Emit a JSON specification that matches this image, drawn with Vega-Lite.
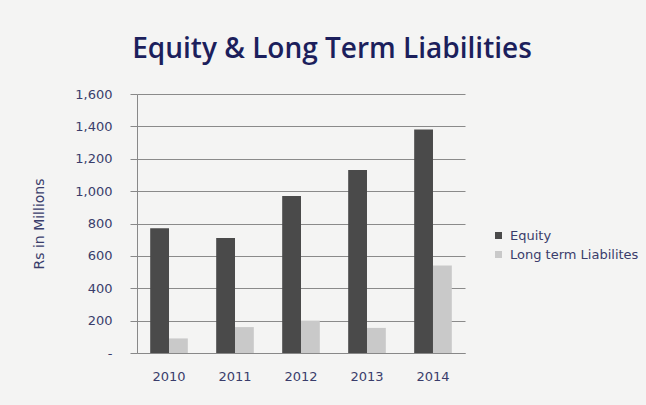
{
  "$schema": "https://vega.github.io/schema/vega-lite/v6.json",
  "autosize": "none",
  "width": 328,
  "height": 259,
  "padding": {"left": 137, "top": 94, "right": 181, "bottom": 52},
  "background": "#f4f4f3",
  "title": {
    "text": "Equity & Long Term Liabilities",
    "anchor": "middle",
    "dx": 31,
    "offset": 24,
    "font": "Open Sans",
    "fontSize": 28,
    "fontWeight": 600,
    "color": "#1c1f5c"
  },
  "data": {
    "values": [
      {"year": "2010", "series": "Equity", "value": 770},
      {"year": "2010", "series": "Long term Liabilites", "value": 90},
      {"year": "2011", "series": "Equity", "value": 710},
      {"year": "2011", "series": "Long term Liabilites", "value": 160},
      {"year": "2012", "series": "Equity", "value": 970},
      {"year": "2012", "series": "Long term Liabilites", "value": 200},
      {"year": "2013", "series": "Equity", "value": 1130},
      {"year": "2013", "series": "Long term Liabilites", "value": 155},
      {"year": "2014", "series": "Equity", "value": 1380},
      {"year": "2014", "series": "Long term Liabilites", "value": 540}
    ]
  },
  "mark": {"type": "bar"},
  "encoding": {
    "x": {
      "field": "year",
      "type": "nominal",
      "scale": {"paddingInner": 0.43, "paddingOuter": 0.2},
      "axis": {
        "title": null,
        "labelAngle": 0,
        "labelFont": "DejaVu Sans",
        "labelFontSize": 13,
        "labelColor": "#3a3d6b",
        "labelPadding": 17,
        "ticks": false,
        "domainColor": "#888888",
        "grid": false
      }
    },
    "xOffset": {"field": "series", "type": "nominal", "scale": {"paddingInner": 0, "paddingOuter": 0}},
    "y": {
      "field": "value",
      "type": "quantitative",
      "scale": {"domain": [0, 1600]},
      "axis": {
        "title": "Rs in Millions",
        "titleFont": "DejaVu Sans",
        "titleFontSize": 14,
        "titleFontWeight": "normal",
        "titleColor": "#3a3d6b",
        "titlePadding": 28,
        "values": [0, 200, 400, 600, 800, 1000, 1200, 1400, 1600],
        "labelExpr": "datum.value == 0 ? '-' : format(datum.value, ',')",
        "labelFont": "DejaVu Sans",
        "labelFontSize": 13,
        "labelColor": "#3a3d6b",
        "labelPadding": 18,
        "tickSize": 7,
        "tickColor": "#888888",
        "domainColor": "#888888",
        "gridColor": "#8a8a8a",
        "gridWidth": 1
      }
    },
    "color": {
      "field": "series",
      "type": "nominal",
      "scale": {"domain": ["Equity", "Long term Liabilites"], "range": ["#4a4a4a", "#c9c9c9"]},
      "legend": {
        "title": null,
        "orient": "none",
        "legendX": 355,
        "legendY": 135,
        "symbolType": "square",
        "symbolSize": 49,
        "rowPadding": 5,
        "labelFont": "DejaVu Sans",
        "labelFontSize": 13,
        "labelColor": "#3a3d6b",
        "labelOffset": 5
      }
    }
  },
  "config": {"view": {"stroke": null}}
}
